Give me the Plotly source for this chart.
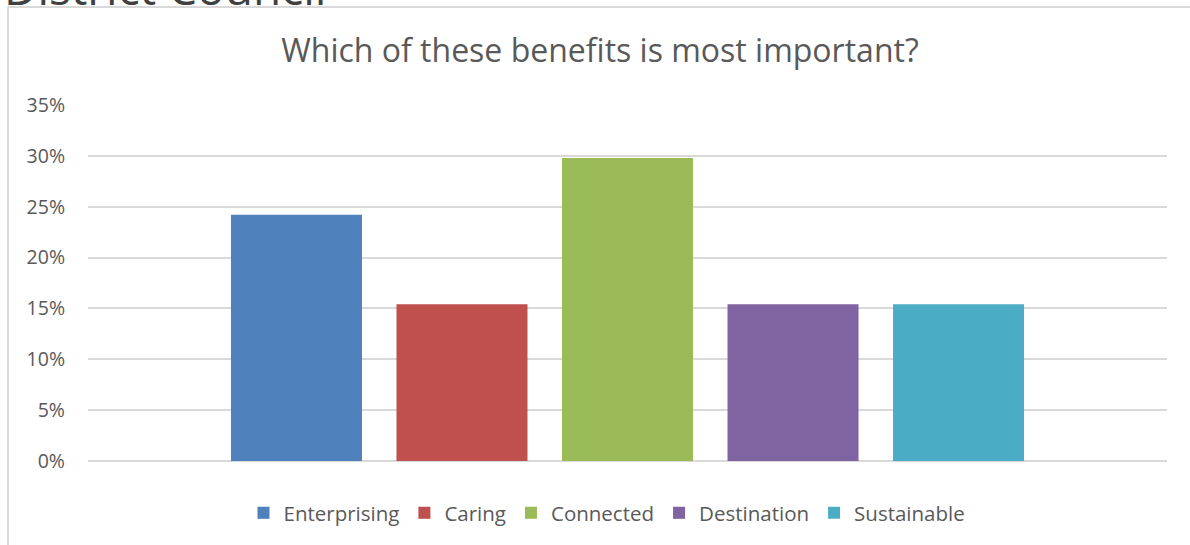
import plotly.graph_objects as go

series = ["Enterprising", "Caring", "Connected", "Destination", "Sustainable"]
values = [0.242, 0.154, 0.298, 0.154, 0.154]
colors = ["#4F81BD", "#C0504D", "#9BBB59", "#8064A2", "#4BACC6"]
category = ["Benefit"]
title_text = "Which of these benefits is most important?"
header_text = "District Council"

W, H = 1190, 545
L, R, T, B = 88, 1167, 105, 461

def px_x(px):
    return (px - L) / (R - L)

def px_y(py):
    return (B - py) / (B - T)

fig = go.Figure()
for name, v, c in zip(series, values, colors):
    fig.add_trace(go.Bar(x=category, y=[v], name=name, marker=dict(color=c, line=dict(width=0))))

font_family = "'Open Sans', 'Noto Sans', sans-serif"

fig.update_layout(
    width=W, height=H,
    margin=dict(l=L, r=W - R, t=T, b=H - B, pad=0),
    paper_bgcolor="white", plot_bgcolor="white",
    barmode="group", bargap=0.233, bargroupgap=0.2085,
    font=dict(family=font_family, color="#595959", size=19),
    title=dict(text=title_text, x=600 / W, xanchor="center",
               y=1 - 51 / H, yanchor="middle",
               font=dict(size=32, color="#595959", family=font_family)),
    xaxis=dict(type="category", range=[-0.5, 0.5], showticklabels=False, showgrid=False,
               zeroline=False, showline=False, ticks=""),
    yaxis=dict(range=[0, 0.35], dtick=0.05, tickformat=".0%", showgrid=True,
               gridcolor="#D9D9D9", gridwidth=1.5, zeroline=True, zerolinecolor="#D9D9D9",
               zerolinewidth=1.5, showline=False, ticks="", ticklabelstandoff=22,
               tickfont=dict(size=19.5, color="#595959")),
    legend=dict(orientation="h", x=px_x(607), xanchor="center", y=px_y(513), yanchor="middle",
                font=dict(size=20.5, color="#595959"), itemwidth=30, traceorder="normal"),
    showlegend=True,
)

# Outer chart border (partial, as in the screenshot)
fig.add_shape(type="line", xref="paper", yref="paper", x0=px_x(8), x1=px_x(W), y0=px_y(7), y1=px_y(7),
              line=dict(color="#D9D9D9", width=2))
fig.add_shape(type="line", xref="paper", yref="paper", x0=px_x(8), x1=px_x(8), y0=px_y(7), y1=px_y(H),
              line=dict(color="#D9D9D9", width=2))

# Cropped header text above the chart
fig.add_annotation(text=header_text, xref="paper", yref="paper", x=px_x(2), xanchor="left",
                   y=px_y(-13), yanchor="middle", showarrow=False,
                   font=dict(size=46, color="#404040", family=font_family))

fig.write_html("out.html", config={"displayModeBar": False},
               post_script="document.body.style.margin='0';")
